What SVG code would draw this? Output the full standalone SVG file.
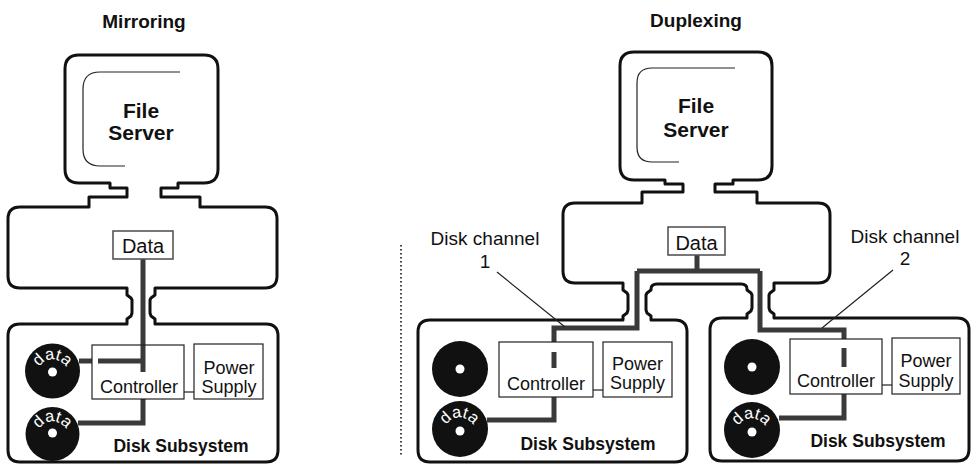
<svg xmlns="http://www.w3.org/2000/svg" width="971" height="464" viewBox="0 0 971 464">
  <style>
    text { font-family: "Liberation Sans", Arial, sans-serif; fill: #111; }
    .title { font-size: 19px; font-weight: bold; text-anchor: middle; }
    .server { font-size: 21px; font-weight: bold; text-anchor: middle; }
    .label { font-size: 18px; text-anchor: middle; }
    .datalabel { font-size: 20px; text-anchor: middle; }
    .chan { font-size: 19px; text-anchor: middle; }
    .sub { font-size: 17.5px; font-weight: bold; text-anchor: middle; }
    .outline { fill: #fff; stroke: #111; stroke-width: 3; stroke-linejoin: round; }
    .screen { fill: none; stroke: #222; stroke-width: 1.2; }
    .box { fill: none; stroke: #222; stroke-width: 1.2; }
    .dbox { fill: #fff; stroke: #555; stroke-width: 1.6; }
    .bus { fill: none; stroke: #3a3a3a; stroke-width: 5; stroke-linejoin: miter; }
    .thin { fill: none; stroke: #222; stroke-width: 1.2; }
    .disk { fill: #111; }
    .hole { fill: #fff; }
    .disktext { font-family: "Liberation Sans", Arial, sans-serif; font-size: 16.5px; fill: #fff; }
    .sep { stroke: #111; stroke-width: 1.6; stroke-dasharray: 1.6 2.4; }
  </style>
  <defs>
    <path id="arcL1" d="M37,375 A15.5,15.5 0 0 1 68,375"/>
    <path id="arcL2" d="M37,437 A15.5,15.5 0 0 1 68,437"/>
    <path id="arcA2" d="M444,433 A15.5,15.5 0 0 1 475,433"/>
    <path id="arcB2" d="M736,434 A15.5,15.5 0 0 1 767,434"/>
  </defs>

  <!-- headings -->
  <g id="titles">
    <text class="title" x="144" y="28">Mirroring</text>
    <text class="title" x="696" y="27">Duplexing</text>
  </g>

  <line class="sep" x1="401" y1="245" x2="401" y2="456"/>

  <!-- ===== Mirroring: server + single disk subsystem enclosure ===== -->
  <g id="enclosure-mirroring">
    <path class="outline" d="M79,55 H204 Q218,55 218,69 V169 Q218,183 204,183 H178 V188 H161 V197 H200 V207 H265 Q277,207 277,219 V276 Q277,288 265,288 H155 L155,295 L151,298 L150,300 V313 L151,316 L155,319 V324 H266 Q278,324 278,336 V450 Q278,462 266,462 H20 Q8,462 8,450 V336 Q8,324 20,324 H127 V319 L131,316 L132,313 V300 L131,298 L127,295 V288 H20 Q8,288 8,276 V219 Q8,207 20,207 H89 V197 H127 V188 H110 V183 H79 Q65,183 65,169 V69 Q65,55 79,55 Z"/>
    <path class="screen" d="M180,72 H100 Q83,72 83,89 V149 Q83,166 100,166 H125"/>
  </g>
  <g id="server-mirroring">
    <text class="server" x="141" y="118">File</text>
    <text class="server" x="141" y="140">Server</text>
  </g>

  <!-- ===== Duplexing: server + two disk subsystems enclosure ===== -->
  <g id="enclosure-duplexing">
    <path class="outline" d="M634,52 H758 Q772,52 772,66 V166 Q772,180 758,180 H733 V184 H715 V192 H757 V203 H818 Q830,203 830,215 V271 Q830,283 818,283 H774 L774,290 L770,293 L769,295 V308 L770,311 L774,314 V318 H957 Q969,318 969,330 V449 Q969,461 957,461 H722 Q710,461 710,449 V330 Q710,318 722,318 H747 V314 L751,311 L752,308 V295 L751,293 L747,290 V289 Q747,284 741,284 H657 Q651,284 651,289 V290 L647,293 L646,295 V310 L647,313 L651,316 V320 H675 Q687,320 687,332 V450 Q687,462 675,462 H430 Q418,462 418,450 V332 Q418,320 430,320 H623 V316 L627,313 L628,310 V295 L627,293 L623,290 V283 H575 Q563,283 563,271 V215 Q563,203 575,203 H642 V192 H683 V184 H665 V180 H634 Q620,180 620,166 V66 Q620,52 634,52 Z"/>
    <path class="screen" d="M735,68 H652 Q637,68 637,83 V147 Q637,162 652,162 H679"/>
  </g>
  <g id="server-duplexing">
    <text class="server" x="696" y="113">File</text>
    <text class="server" x="696" y="137">Server</text>
  </g>

  <!-- data paths and leader lines -->
  <g id="connectors">
    <!-- mirroring: one channel to both disks -->
    <path class="bus" d="M143,259 V372"/>
    <path class="bus" d="M98,361 H145"/>
    <path class="bus" d="M79,361 H92"/>
    <path class="bus" d="M143,399 V423 H78"/>
    <path class="thin" d="M184,392 H194"/>

    <!-- duplexing: split into two channels -->
    <path class="bus" d="M697,255 V271"/>
    <path class="bus" d="M637,271 H760"/>
    <path class="bus" d="M637,271 V328 H554 V342"/>
    <path class="bus" d="M554,352 V368"/>
    <path class="bus" d="M554,397 V420 H487"/>
    <path class="bus" d="M760,271 V330 H844 V339"/>
    <path class="bus" d="M844,348 V367"/>
    <path class="bus" d="M844,394 V418 H779"/>
    <path class="thin" d="M593,390 H603"/>
    <path class="thin" d="M882,385 H892"/>

    <line class="thin" x1="497" y1="272" x2="565" y2="327"/>
    <line class="thin" x1="893" y1="270" x2="822" y2="328"/>
  </g>

  <!-- Mirroring nodes -->
  <g id="data-mirroring">
    <rect class="dbox" x="113" y="231" width="60" height="28"/>
    <text class="datalabel" x="143" y="253">Data</text>
  </g>
  <g id="controller-mirroring">
    <rect class="box" x="92" y="345" width="92" height="54"/>
    <text class="label" x="139" y="393">Controller</text>
  </g>
  <g id="power-mirroring">
    <rect class="box" x="194" y="344" width="69" height="55"/>
    <text class="label" x="229" y="374">Power</text>
    <text class="label" x="229" y="393">Supply</text>
  </g>
  <g id="disk1-mirroring">
    <circle class="disk" cx="52.5" cy="371" r="27.5"/>
    <circle class="hole" cx="52.5" cy="372" r="4.5"/>
    <text class="disktext"><textPath href="#arcL1" startOffset="50%" text-anchor="middle">data</textPath></text>
  </g>
  <g id="disk2-mirroring">
    <circle class="disk" cx="52.5" cy="434" r="27"/>
    <circle class="hole" cx="52.5" cy="433" r="4.5"/>
    <text class="disktext"><textPath href="#arcL2" startOffset="50%" text-anchor="middle">data</textPath></text>
  </g>
  <g id="subsystem-mirroring">
    <text class="sub" x="181" y="452">Disk Subsystem</text>
  </g>

  <!-- Duplexing nodes -->
  <g id="data-duplexing">
    <rect class="dbox" x="668" y="227" width="57" height="28"/>
    <text class="datalabel" x="696.5" y="250">Data</text>
  </g>
  <g id="channel1-label">
    <text class="chan" x="485" y="245">Disk channel</text>
    <text class="chan" x="485" y="268">1</text>
  </g>
  <g id="channel2-label">
    <text class="chan" x="905" y="243">Disk channel</text>
    <text class="chan" x="905" y="265">2</text>
  </g>

  <g id="controller-a">
    <rect class="box" x="499" y="342" width="94" height="55"/>
    <text class="label" x="546" y="390">Controller</text>
  </g>
  <g id="power-a">
    <rect class="box" x="603" y="342" width="69" height="55"/>
    <text class="label" x="637.5" y="370">Power</text>
    <text class="label" x="637.5" y="389">Supply</text>
  </g>
  <g id="disk1-a">
    <circle class="disk" cx="460" cy="369" r="28"/>
    <circle class="hole" cx="460" cy="369" r="4.5"/>
  </g>
  <g id="disk2-a">
    <circle class="disk" cx="460" cy="429" r="28"/>
    <circle class="hole" cx="460" cy="431" r="4.5"/>
    <text class="disktext"><textPath href="#arcA2" startOffset="50%" text-anchor="middle">data</textPath></text>
  </g>
  <g id="subsystem-a">
    <text class="sub" x="588" y="450">Disk Subsystem</text>
  </g>

  <g id="controller-b">
    <rect class="box" x="790" y="339" width="92" height="55"/>
    <text class="label" x="836" y="387">Controller</text>
  </g>
  <g id="power-b">
    <rect class="box" x="892" y="338" width="68" height="56"/>
    <text class="label" x="926" y="367">Power</text>
    <text class="label" x="926" y="387">Supply</text>
  </g>
  <g id="disk1-b">
    <circle class="disk" cx="752" cy="367" r="28"/>
    <circle class="hole" cx="752" cy="367" r="4.5"/>
  </g>
  <g id="disk2-b">
    <circle class="disk" cx="752" cy="430" r="28"/>
    <circle class="hole" cx="752" cy="432" r="4.5"/>
    <text class="disktext"><textPath href="#arcB2" startOffset="50%" text-anchor="middle">data</textPath></text>
  </g>
  <g id="subsystem-b">
    <text class="sub" x="878" y="447">Disk Subsystem</text>
  </g>
</svg>
